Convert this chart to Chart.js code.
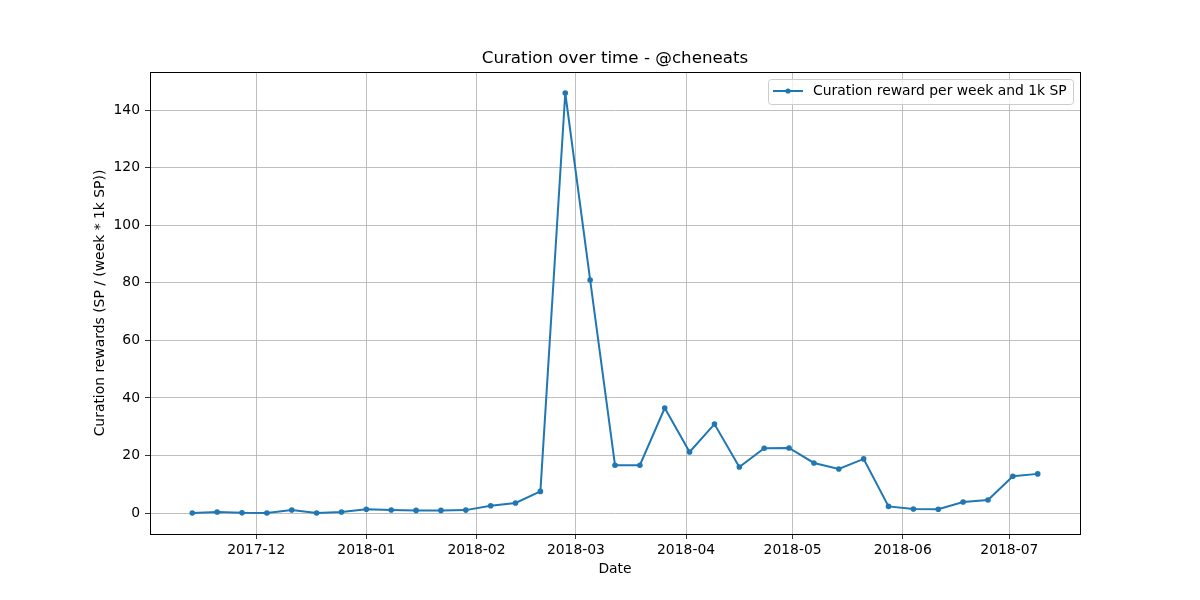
<!DOCTYPE html>
<html>
<head>
<meta charset="utf-8">
<script src="https://cdn.jsdelivr.net/npm/chart.js@4/dist/chart.umd.min.js"></script>
<style>
    body { margin: 0; background: #ffffff; }
    #wrap { width: 1200px; height: 600px; }
</style>
</head>
<body>
<div id="wrap"><canvas id="curationChart" width="1200" height="600"></canvas></div>
<script>
"use strict";
// weekly points
const weekDates = [
    '2017-11-13', '2017-11-20', '2017-11-27', '2017-12-04', '2017-12-11', '2017-12-18', '2017-12-25',
    '2018-01-01', '2018-01-08', '2018-01-15', '2018-01-22', '2018-01-29', '2018-02-05', '2018-02-12',
    '2018-02-19', '2018-02-26', '2018-03-05', '2018-03-12', '2018-03-19', '2018-03-26', '2018-04-02',
    '2018-04-09', '2018-04-16', '2018-04-23', '2018-04-30', '2018-05-07', '2018-05-14', '2018-05-21',
    '2018-05-28', '2018-06-04', '2018-06-11', '2018-06-18', '2018-06-25', '2018-07-02', '2018-07-09'
];
const curationValues = [
    0, 0.35, 0.05, 0, 1.05, 0, 0.35, 1.3, 1.05, 0.9, 0.9, 1.0, 2.5, 3.5,
    7.5, 146.0, 81.0, 16.6, 16.6, 36.5, 21.2, 30.9, 16.0, 22.5, 22.6, 17.4, 15.3, 18.8,
    2.3, 1.4, 1.3, 3.8, 4.5, 12.8, 13.6
];
const monthTicks = ['2017-12-01', '2018-01-01', '2018-02-01', '2018-03-01', '2018-04-01', '2018-05-01', '2018-06-01', '2018-07-01'];
const monthLabels = ['2017-12', '2018-01', '2018-02', '2018-03', '2018-04', '2018-05', '2018-06', '2018-07'];
const yTicks = [0, 20, 40, 60, 80, 100, 120, 140];
const seriesLabel = 'Curation reward per week and 1k SP';
const chartTitle = 'Curation over time - @cheneats';

const lineColor = '#1f77b4';
const fontFamily = "'DejaVu Sans', sans-serif";

function toDay(dateStr) {
    return Date.parse(dateStr + 'T00:00:00Z') / 86400000;
}

const points = weekDates.map((d, i) => ({ x: toDay(d), y: curationValues[i] }));
const xFirst = points[0].x;
const xLast = points[points.length - 1].x;
const xPad = (xLast - xFirst) * 0.05;
const yMaxVal = Math.max(...curationValues);
const yMinVal = Math.min(...curationValues);
const yPad = (yMaxVal - yMinVal) * 0.05;

// box around the plot, title over the plot, legend in the upper right (matplotlib look)
const framePlugin = {
    id: 'frame',
    afterDraw(chart) {
        const ctx = chart.ctx;
        const a = chart.chartArea;
        ctx.save();
        ctx.strokeStyle = '#000000';
        ctx.lineWidth = 1;
        ctx.strokeRect(a.left + 0.5, a.top + 0.5, a.right - a.left, a.bottom - a.top);

        ctx.fillStyle = '#000000';
        ctx.font = '16.7px ' + fontFamily;
        ctx.textAlign = 'center';
        ctx.textBaseline = 'middle';
        ctx.fillText(chartTitle, (a.left + a.right) / 2, a.top - 13);

        // legend
        const bx = a.right - 312, by = a.top + 7, bw = 305, bh = 25;
        ctx.beginPath();
        ctx.roundRect(bx + 0.5, by + 0.5, bw, bh, 3);
        ctx.fillStyle = 'rgba(255,255,255,0.8)';
        ctx.fill();
        ctx.strokeStyle = '#cccccc';
        ctx.stroke();
        const ly = by + 12;
        ctx.beginPath();
        ctx.moveTo(bx + 5, ly);
        ctx.lineTo(bx + 35, ly);
        ctx.strokeStyle = lineColor;
        ctx.lineWidth = 2;
        ctx.stroke();
        ctx.beginPath();
        ctx.arc(bx + 20, ly, 2.6, 0, Math.PI * 2);
        ctx.fillStyle = lineColor;
        ctx.fill();
        ctx.fillStyle = '#000000';
        ctx.font = '13.9px ' + fontFamily;
        ctx.textBaseline = 'middle';
        ctx.textAlign = 'left';
        ctx.fillText(seriesLabel, bx + 45, ly);
        ctx.restore();
    }
};

Chart.defaults.font.family = fontFamily;
Chart.defaults.font.size = 13.9;
Chart.defaults.color = '#000000';

new Chart(document.getElementById('curationChart').getContext('2d'), {
    type: 'line',
    data: {
        datasets: [{
            label: seriesLabel,
            data: points,
            borderColor: lineColor,
            backgroundColor: lineColor,
            borderWidth: 2,
            pointRadius: 2.8,
            pointHoverRadius: 2.8,
            pointBorderWidth: 0,
            tension: 0
        }]
    },
    options: {
        responsive: false,
        animation: false,
        devicePixelRatio: 1,
        layout: { padding: { left: 0, right: 120, top: 72, bottom: 0 } },
        plugins: {
            legend: { display: false },
            tooltip: { enabled: false },
            title: { display: false }
        },
        scales: {
            x: {
                type: 'linear',
                min: xFirst - xPad,
                max: xLast + xPad,
                afterBuildTicks(scale) {
                    scale.ticks = monthTicks.map(d => ({ value: toDay(d) }));
                },
                afterFit(scale) { scale.height = 66; },
                ticks: {
                    autoSkip: false,
                    maxRotation: 0,
                    padding: 3,
                    callback: (value, index) => monthLabels[index]
                },
                grid: { color: '#b0b0b0', lineWidth: 0.8, tickLength: 5, tickColor: '#000000' },
                border: { color: '#000000', width: 1 },
                title: { display: true, text: 'Date', padding: { top: 0, bottom: 22.7 } }
            },
            y: {
                min: yMinVal - yPad,
                max: yMaxVal + yPad,
                afterBuildTicks(scale) {
                    scale.ticks = yTicks.map(v => ({ value: v }));
                },
                afterFit(scale) { scale.width = 150; },
                ticks: { padding: 5 },
                grid: { color: '#b0b0b0', lineWidth: 0.8, tickLength: 5, tickColor: '#000000' },
                border: { color: '#000000', width: 1 },
                title: { display: true, text: 'Curation rewards (SP / (week * 1k SP))', padding: { top: 92, bottom: 0 } }
            }
        }
    },
    plugins: [framePlugin]
});
</script>
</body>
</html>
